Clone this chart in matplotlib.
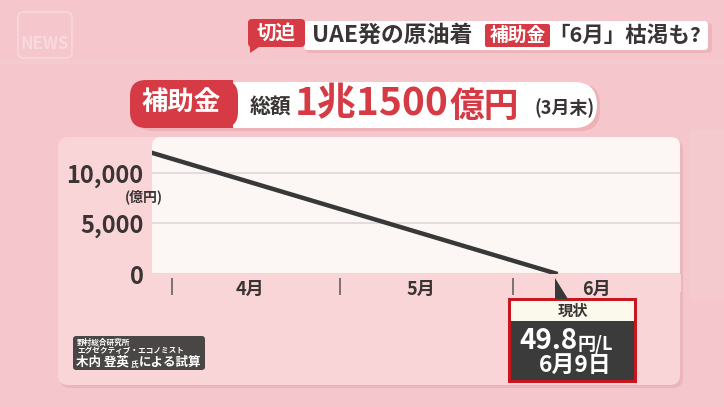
import matplotlib
matplotlib.use("Agg")
import matplotlib.pyplot as plt
from matplotlib.patches import FancyBboxPatch, Rectangle, Polygon

plt.rcParams['font.family'] = ['Noto Sans CJK JP', 'DejaVu Sans']

# days counted from 1 April, balance in 億円
days = [-4, 69]
balance = [12050, 0]
yticks = [0, 5000, 10000]
month_edges = [0, 30, 61]
month_mid = [14, 44.5, 76]
months = ['4月', '5月', '6月']

BG = '#f5c6cb'
PANEL = '#f9d5d8'
PLOT = '#fcf7f5'
RED = '#d63a44'
DARK = '#3a3434'

fig = plt.figure(figsize=(7.24, 4.07), dpi=100)
fig.patch.set_facecolor(BG)
bg = fig.add_axes([0, 0, 1, 1], zorder=0)
bg.set_xlim(0, 724)
bg.set_ylim(407, 0)
bg.axis('off')


def box(x0, y0, x1, y1, color, r=0.0, z=1, **kw):
    if r:
        p = FancyBboxPatch((x0, y0), x1 - x0, y1 - y0,
                           boxstyle=f'round,pad=0,rounding_size={r}',
                           fc=color, zorder=z, **kw)
    else:
        p = Rectangle((x0, y0), x1 - x0, y1 - y0, fc=color, zorder=z, **kw)
    if 'ec' not in kw:
        p.set_edgecolor('none')
    bg.add_patch(p)
    return p


def txt(x, y, s, size, color=DARK, ha='left', weight='bold', **kw):
    bg.text(x, y, s, fontsize=size, color=color, ha=ha, va='center',
            fontweight=weight, zorder=10, **kw)


# faint background decoration
box(18, 12, 72, 58, 'none', r=6, ec='white', lw=1.5, alpha=0.25)
txt(45, 44, 'NEWS', 12, color='white', ha='center', alpha=0.35)
box(0, 60, 724, 64, 'white', alpha=0.08)
box(690, 130, 724, 300, 'white', alpha=0.08)

# top banner
box(306, 23, 712, 53, '#e8a9ae', r=4, alpha=0.6)
box(304, 21, 708, 50, 'white', r=4, z=2)
box(248, 19, 305, 47, RED, r=4, z=3)
bg.add_patch(Polygon([(250, 40), (250, 53), (262, 45)], fc=RED, ec='none', zorder=3))
txt(276, 33, '切迫', 14, color='white', ha='center')
txt(312, 35, 'UAE発の原油着', 16.5)
box(485, 24, 550, 47, RED, r=2, z=3)
txt(517.5, 35, '補助金', 13.5, color='white', ha='center')
txt(548, 35, '「6月」枯渇も?', 15.5)

# headline pill
box(134, 84, 600, 131, '#e7a6ab', r=20, alpha=0.6)
box(215, 82, 597, 128, 'white', r=23, z=2)
box(130, 80, 238, 128, RED, r=16, z=3)
box(220, 80, 233, 128, RED, z=3)
txt(181, 103, '補助金', 19, color='white', ha='center')
txt(250, 107, '総額', 15)
txt(295, 104, '1兆1500', 28, color=RED)
txt(450, 106, '億円', 25, color=RED)
txt(534, 108, '(3月末)', 13)

# chart panel
box(60, 140, 683, 388, '#e8b0b5', r=10, alpha=0.7)
box(58, 137, 680, 385, PANEL, r=10, z=2)
box(152, 137, 680, 290, PLOT, r=9, z=3)
box(152, 274, 680.5, 292, PANEL, z=4)

ax = fig.add_axes([152 / 724, 1 - 274 / 407, 528 / 724, 137 / 407], zorder=2)
ax.set_facecolor('none')
ax.plot(days, balance, color='#383838', lw=3.2, solid_capstyle='butt', zorder=3)
ax.set_xlim(-3.6, 90.9)
ax.set_ylim(0, 13550)
ax.set_yticks(yticks, labels=[f'{v:,}' for v in yticks])
ax.yaxis.grid(True, color='#e0dada', lw=1.3)
ax.set_axisbelow(True)
ax.set_xticks([])
ax.set_xticks(month_mid, labels=months, minor=True)
ax.tick_params(axis='y', length=0, pad=6, labelsize=17, labelcolor=DARK)
ax.tick_params(axis='x', which='minor', length=0, pad=4, labelsize=13, labelcolor=DARK)
for lab in ax.get_yticklabels() + ax.get_xticklabels(minor=True):
    lab.set_fontweight('bold')
for s in ax.spines.values():
    s.set_visible(False)
ax.vlines(month_edges, -0.03, -0.15, transform=ax.get_xaxis_transform(),
          color='#6a6060', lw=1.2, clip_on=False)

txt(125, 197, '(億円)', 10)

# current status callout
box(508, 298, 637, 383, '#c8161e', z=5)
box(511, 301, 634, 321, '#fbf8ec', z=6)
box(511, 321, 634, 380, '#3c3b3b', z=6)
txt(572.5, 311, '現状', 11, ha='center')
txt(578, 341, '49.8', 20, color='white', ha='right')
txt(578, 344, '円/L', 13, color='white')
txt(575, 365, '6月9日', 16.5, color='white', ha='center')
bg.add_patch(Polygon([(555, 278), (555, 299), (568, 299)], fc='#383838', ec='none', zorder=7))

# source
box(73, 336, 205, 370, '#4a4646', r=3, z=5)
txt(77, 342, '野村総合研究所', 5.5, color='white')
txt(77, 350, 'エグゼクティブ・エコノミスト', 5.5, color='white')
txt(76, 362, '木内 登英', 9, color='white')
txt(131, 364, '氏', 5.5, color='white')
txt(139, 362, 'による試算', 9, color='white')

fig.savefig('out.png', dpi=100, facecolor=fig.get_facecolor())
